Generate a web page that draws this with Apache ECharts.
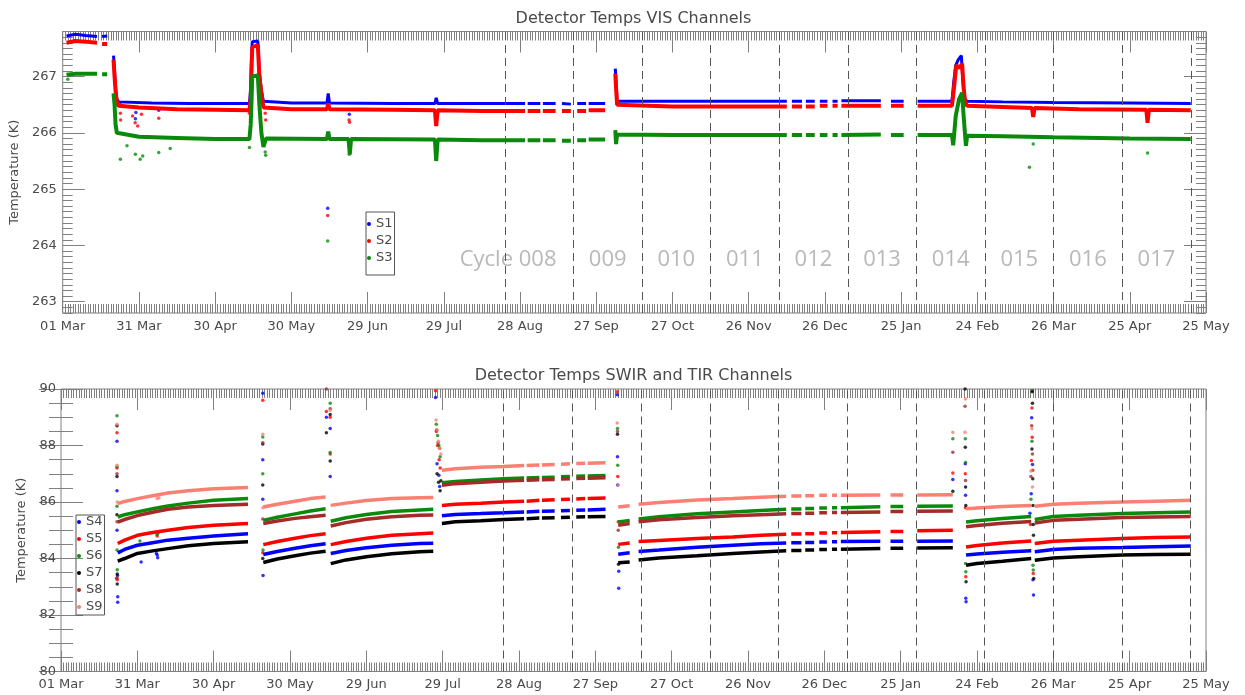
<!DOCTYPE html>
<html>
<head>
<meta charset="utf-8">
<script src="https://cdn.jsdelivr.net/npm/echarts@6/dist/echarts.min.js"></script>
<style>
  html, body { margin: 0; padding: 0; background: #ffffff; }
  #chart { width: 1245px; height: 695px; }
</style>
</head>
<body>
<div id="chart"></div>
<script>
// Time axis: days counted from 01 Mar; one major tick every 30 days.
const dateLabels = ['01 Mar', '31 Mar', '30 Apr', '30 May', '29 Jun', '29 Jul', '28 Aug', '27 Sep',
  '27 Oct', '26 Nov', '26 Dec', '25 Jan', '24 Feb', '26 Mar', '25 Apr', '25 May'];

// Start day of each 27-day orbit cycle (dashed markers) and the cycle names.
const cycleStarts = [174, 201, 228, 255, 282, 309, 336, 363, 390, 417, 444];
const cycleNames = ['Cycle 008', '009', '010', '011', '012', '013', '014', '015', '016', '017'];

// Temperature tick labels (K).
const visTicks = [263, 264, 265, 266, 267];
const swirTicks = [80, 82, 84, 86, 88, 90];

// ---- VIS channels: [day, K]; null marks a data gap ----
const visS1 = [
  [1.5, 267.72], [5, 267.75], [9, 267.73], [13.5, 267.71], null, [15.5, 267.71], [17.5, 267.72], null,
  [20, 267.37], [20.4, 267.1], [20.8, 266.8], [21.3, 266.6], [22, 266.55], [35, 266.53], [50, 266.52], [65, 266.52], [73.5, 266.52],
  [74, 266.8], [74.3, 267.3], [74.6, 267.62], [76.8, 267.63], [77.4, 267.08], [78.2, 266.75], [79, 266.56], [90, 266.53],
  [104, 266.53], [104.5, 266.7], [105, 266.53], [130, 266.52], [146.5, 266.52], [147, 266.62], [147.6, 266.52], [165, 266.52],
  [182, 266.52], null, [183, 266.52], [188, 266.52], null, [189, 266.52], [194, 266.52], null, [196.5, 266.52], [200, 266.51], null,
  [202.5, 266.52], [206, 266.52], null, [207, 266.52], [213.5, 266.52], null,
  [217.5, 267.14], [217.8, 266.9], [218.2, 266.56], [240, 266.56], [260, 266.56], [285, 266.56], null, [287, 266.56], [291, 266.56], null,
  [292.5, 266.56], [296, 266.56], null, [298, 266.56], [301, 266.56], null, [303, 266.56], [305, 266.56], null, [306.5, 266.57], [322, 266.57], null,
  [326, 266.56], [331, 266.56], null, [336.5, 266.56], [350, 266.56],
  [350.7, 266.9], [351.5, 267.2], [352.5, 267.3], [353.7, 267.37], [354.2, 267.0], [355, 266.6], [356, 266.56], [370, 266.55], [390, 266.54], [420, 266.53], [444, 266.52]
];
const visS2 = [
  [1.5, 267.6], [5, 267.63], [9, 267.62], [13.5, 267.6], null, [15.5, 267.58], [17.5, 267.58], null,
  [20, 267.3], [20.4, 267.0], [20.8, 266.75], [21.3, 266.55], [22, 266.48], [30, 266.45], [45, 266.42], [60, 266.41], [73.5, 266.4],
  [74, 266.6], [74.3, 267.1], [74.6, 267.52], [76.8, 267.56], [77.4, 267.0], [78.2, 266.7], [79, 266.45], [90, 266.42],
  [104, 266.42], [104.5, 266.52], [105, 266.42], [130, 266.41], [146.5, 266.4], [147, 266.12], [147.6, 266.4], [165, 266.39],
  [182, 266.39], null, [183, 266.39], [188, 266.39], null, [189, 266.39], [194, 266.39], null, [196.5, 266.39], [200, 266.39], null,
  [202.5, 266.39], [206, 266.39], null, [207, 266.4], [213.5, 266.4], null,
  [217.5, 267.05], [217.8, 266.8], [218.2, 266.5], [240, 266.47], [260, 266.47], [285, 266.47], null, [287, 266.47], [291, 266.47], null,
  [292.5, 266.47], [296, 266.47], null, [298, 266.48], [301, 266.48], null, [303, 266.48], [305, 266.48], null, [306.5, 266.48], [322, 266.48], null,
  [326, 266.48], [331, 266.48], null, [336.5, 266.48], [350, 266.48],
  [350.7, 266.75], [351.7, 267.2], [353, 267.15], [354, 267.23], [354.6, 266.8], [355.2, 266.55], [356, 266.48], [370, 266.46],
  [381.5, 266.44], [382, 266.28], [382.5, 266.44], [400, 266.42], [426.5, 266.41], [427, 266.18], [427.5, 266.41], [444, 266.4]
];
const visS3 = [
  [1.5, 267.03], [5, 267.05], [9, 267.05], [13.5, 267.05], null, [15.5, 267.04], [17.5, 267.04], null,
  [20, 266.7], [20.4, 266.5], [20.8, 266.15], [21.3, 266.0], [22, 265.98], [30, 265.93], [45, 265.91], [60, 265.89], [73.5, 265.89],
  [74, 266.15], [74.3, 266.55], [74.6, 267.0], [76.8, 267.02], [77.4, 266.5], [78.2, 266.0], [79, 265.75], [80, 265.9],
  [104, 265.89], [104.5, 266.02], [105, 265.89], [112.5, 265.89], [113, 265.62], [113.5, 265.89], [146.5, 265.88], [147, 265.5], [147.6, 265.88], [165, 265.87],
  [182, 265.87], null, [183, 265.87], [188, 265.87], null, [189, 265.87], [194, 265.87], null, [196.5, 265.86], [200, 265.86], null,
  [202.5, 265.87], [206, 265.87], null, [207, 265.88], [213.5, 265.88], null,
  [217.5, 266.05], [217.8, 265.8], [218.2, 265.97], [240, 265.96], [260, 265.96], [285, 265.96], null, [287, 265.96], [291, 265.96], null,
  [292.5, 265.96], [296, 265.96], null, [298, 265.96], [301, 265.96], null, [303, 265.96], [305, 265.96], null, [306.5, 265.96], [322, 265.97], null,
  [326, 265.96], [331, 265.96], null, [336.5, 265.96], [350, 265.96],
  [350.5, 265.78], [351.5, 266.3], [352.8, 266.6], [354, 266.71], [354.6, 266.3], [355.5, 265.77], [356, 265.95], [370, 265.94], [390, 265.92], [420, 265.9], [444, 265.89]
];
// Isolated VIS readings away from the main traces.
const visS1Spikes = [[22.7, 266.5], [28.6, 266.25], [28.8, 266.36], [37.8, 266.4], [104.3, 264.66], [112.8, 266.33]];
const visS2Spikes = [[22.7, 266.35], [22.8, 266.23], [27.5, 266.3], [28.5, 266.18], [29.5, 266.12], [31, 266.33], [37.8, 266.26],
  [73.5, 266.35], [73.6, 266.5], [79.7, 266.35], [79.9, 266.23], [104.3, 264.53], [112.7, 266.23], [112.9, 266.19]];
const visS3Spikes = [[2, 266.95], [22.7, 265.53], [25.3, 265.77], [28.6, 265.62], [30.5, 265.53], [31.5, 265.59], [37.8, 265.65],
  [42.3, 265.72], [73.5, 265.74], [79.7, 265.66], [79.9, 265.6], [104.3, 264.08], [112.8, 265.62], [380.5, 265.39], [382, 265.8], [427, 265.64]];

// ---- SWIR and TIR channels: [day, K]; null marks a data gap ----
const swS4 = [
  [22.3, 84.2], [25, 84.32], [30, 84.47], [36, 84.56], [42, 84.65], [50, 84.72], [60, 84.8], [73.5, 84.88], null,
  [79.5, 84.14], [85, 84.25], [92, 84.36], [98, 84.45], [104, 84.52], null,
  [106, 84.18], [112, 84.28], [120, 84.38], [130, 84.47], [141, 84.53], [146.3, 84.54], null,
  [149.7, 85.51], [155, 85.56], [165, 85.59], [174, 85.62], [182, 85.65], null, [183, 85.65], [188, 85.67], null, [189, 85.67], [194, 85.68], null,
  [196.5, 85.69], [200, 85.7], null, [202.5, 85.71], [206, 85.72], null, [207, 85.72], [214, 85.74], null,
  [219, 84.15], [223.5, 84.2], null, [227, 84.25], [235, 84.3], [250, 84.4], [264, 84.47], [275, 84.52], [285, 84.55], null, [287, 84.56], [291, 84.56], null,
  [292.5, 84.57], [296, 84.57], null, [298, 84.58], [301, 84.58], null, [303, 84.59], [305, 84.59], null, [306.5, 84.6], [322, 84.61], null,
  [326, 84.61], [331, 84.61], null, [336.5, 84.61], [350.5, 84.62], null,
  [355.7, 84.12], [360, 84.16], [370, 84.22], [381.3, 84.27], null,
  [382.7, 84.24], [390, 84.32], [400, 84.36], [417, 84.39], [430, 84.42], [444, 84.44]
];
const swS5 = [
  [22.3, 84.53], [25, 84.65], [30, 84.82], [36, 84.92], [42, 85.0], [50, 85.1], [60, 85.18], [73.5, 85.24], null,
  [79.5, 84.49], [85, 84.6], [92, 84.72], [98, 84.81], [104, 84.88], null,
  [106, 84.49], [112, 84.6], [120, 84.72], [130, 84.82], [141, 84.88], [146.3, 84.9], null,
  [149.7, 85.88], [155, 85.92], [165, 85.96], [174, 86.0], [182, 86.03], null, [183, 86.03], [188, 86.06], null, [189, 86.06], [194, 86.08], null,
  [196.5, 86.09], [200, 86.1], null, [202.5, 86.11], [206, 86.12], null, [207, 86.12], [214, 86.14], null,
  [219, 84.5], [223.5, 84.55], null, [227, 84.6], [235, 84.64], [250, 84.71], [264, 84.76], [275, 84.82], [285, 84.86], null, [287, 84.87], [291, 84.87], null,
  [292.5, 84.88], [296, 84.88], null, [298, 84.9], [301, 84.9], null, [303, 84.91], [305, 84.91], null, [306.5, 84.92], [322, 84.95], null,
  [326, 84.96], [331, 84.96], null, [336.5, 84.98], [350.5, 85.0], null,
  [355.7, 84.41], [360, 84.46], [370, 84.55], [381.3, 84.62], null,
  [382.7, 84.53], [390, 84.61], [400, 84.65], [417, 84.71], [430, 84.74], [444, 84.76]
];
const swS6 = [
  [22.3, 85.47], [25, 85.55], [30, 85.65], [36, 85.76], [42, 85.86], [50, 85.96], [60, 86.06], [73.5, 86.12], null,
  [79.5, 85.35], [85, 85.46], [92, 85.58], [98, 85.68], [104, 85.76], null,
  [106, 85.32], [112, 85.44], [120, 85.56], [130, 85.66], [141, 85.72], [146.3, 85.74], null,
  [149.7, 86.68], [155, 86.73], [165, 86.78], [174, 86.82], [182, 86.85], null, [183, 86.85], [188, 86.87], null, [189, 86.87], [194, 86.88], null,
  [196.5, 86.89], [200, 86.9], null, [202.5, 86.91], [206, 86.92], null, [207, 86.92], [214, 86.94], null,
  [219, 85.29], [223.5, 85.35], null, [227, 85.4], [235, 85.48], [250, 85.58], [264, 85.65], [275, 85.7], [285, 85.74], null, [287, 85.75], [291, 85.75], null,
  [292.5, 85.77], [296, 85.77], null, [298, 85.79], [301, 85.79], null, [303, 85.8], [305, 85.8], null, [306.5, 85.8], [322, 85.83], null,
  [326, 85.84], [331, 85.84], null, [336.5, 85.85], [350.5, 85.86], null,
  [355.7, 85.29], [360, 85.34], [370, 85.42], [381.3, 85.49], null,
  [382.7, 85.38], [390, 85.49], [400, 85.53], [417, 85.59], [430, 85.62], [444, 85.65]
];
const swS7 = [
  [22.3, 83.91], [25, 84.0], [30, 84.18], [36, 84.27], [42, 84.35], [50, 84.45], [60, 84.53], [73.5, 84.59], null,
  [79.5, 83.86], [85, 83.98], [92, 84.1], [98, 84.19], [104, 84.26], null,
  [106, 83.82], [112, 83.95], [120, 84.06], [130, 84.17], [141, 84.24], [146.3, 84.26], null,
  [149.7, 85.24], [155, 85.3], [165, 85.34], [174, 85.38], [182, 85.41], null, [183, 85.41], [188, 85.43], null, [189, 85.43], [194, 85.44], null,
  [196.5, 85.45], [200, 85.46], null, [202.5, 85.47], [206, 85.48], null, [207, 85.48], [214, 85.49], null,
  [219, 83.85], [223.5, 83.88], null, [227, 83.95], [235, 84.02], [250, 84.1], [264, 84.18], [275, 84.23], [285, 84.27], null, [287, 84.28], [291, 84.28], null,
  [292.5, 84.3], [296, 84.3], null, [298, 84.32], [301, 84.32], null, [303, 84.33], [305, 84.33], null, [306.5, 84.33], [322, 84.35], null,
  [326, 84.36], [331, 84.36], null, [336.5, 84.37], [350.5, 84.38], null,
  [355.7, 83.76], [360, 83.82], [370, 83.9], [381.3, 84.0], null,
  [382.7, 83.94], [390, 84.02], [400, 84.06], [417, 84.12], [430, 84.14], [444, 84.15]
];
const swS8 = [
  [22.3, 85.29], [25, 85.38], [30, 85.52], [36, 85.64], [42, 85.74], [50, 85.82], [60, 85.88], [73.5, 85.92], null,
  [79.5, 85.24], [85, 85.33], [92, 85.42], [98, 85.48], [104, 85.53], null,
  [106, 85.15], [112, 85.27], [120, 85.39], [130, 85.48], [141, 85.53], [146.3, 85.54], null,
  [149.7, 86.59], [155, 86.65], [165, 86.7], [174, 86.74], [182, 86.77], null, [183, 86.77], [188, 86.79], null, [189, 86.79], [194, 86.8], null,
  [196.5, 86.81], [200, 86.82], null, [202.5, 86.83], [206, 86.84], null, [207, 86.84], [214, 86.86], null,
  [219, 85.18], [223.5, 85.24], null, [227, 85.3], [235, 85.37], [250, 85.45], [264, 85.51], [275, 85.55], [285, 85.58], null, [287, 85.59], [291, 85.59], null,
  [292.5, 85.6], [296, 85.6], null, [298, 85.62], [301, 85.62], null, [303, 85.63], [305, 85.63], null, [306.5, 85.63], [322, 85.65], null,
  [326, 85.66], [331, 85.66], null, [336.5, 85.67], [350.5, 85.68], null,
  [355.7, 85.12], [360, 85.17], [370, 85.25], [381.3, 85.31], null,
  [382.7, 85.26], [390, 85.35], [400, 85.39], [417, 85.45], [430, 85.47], [444, 85.49]
];
const swS9 = [
  [22.3, 85.94], [25, 86.02], [30, 86.12], [36, 86.22], [42, 86.32], [50, 86.4], [60, 86.47], [73.5, 86.51], null,
  [79.5, 85.82], [85, 85.92], [92, 86.03], [98, 86.12], [104, 86.18], null,
  [106, 85.88], [112, 85.96], [120, 86.05], [130, 86.12], [141, 86.15], [146.3, 86.16], null,
  [149.7, 87.12], [155, 87.18], [165, 87.23], [174, 87.26], [182, 87.29], null, [183, 87.29], [188, 87.31], null, [189, 87.31], [194, 87.33], null,
  [196.5, 87.34], [200, 87.35], null, [202.5, 87.36], [206, 87.37], null, [207, 87.37], [214, 87.39], null,
  [219, 85.82], [223.5, 85.87], null, [227, 85.92], [235, 85.98], [250, 86.07], [264, 86.12], [275, 86.17], [285, 86.2], null, [287, 86.21], [291, 86.21], null,
  [292.5, 86.22], [296, 86.22], null, [298, 86.24], [301, 86.24], null, [303, 86.24], [305, 86.24], null, [306.5, 86.24], [322, 86.25], null,
  [326, 86.25], [331, 86.25], null, [336.5, 86.25], [350.5, 86.26], null,
  [355.7, 85.76], [360, 85.79], [370, 85.84], [381.3, 85.88], null,
  [382.7, 85.85], [390, 85.92], [400, 85.96], [417, 86.0], [430, 86.03], [444, 86.06]
];
// Transient readings during decontamination / switch-on events.
const swS4Spikes = [[22, 88.15], [22, 86.4], [22, 85.0], [22.2, 83.4], [22.3, 82.65], [22.3, 82.45], [31.5, 83.88], [37.5, 84.18], [37.8, 84.12], [38, 84.03],
  [79.3, 89.85], [79.3, 87.5], [79.3, 86.1], [79.4, 83.4], [104.3, 89.0], [105.8, 88.6], [105.8, 86.9],
  [147.2, 89.7], [147.8, 87.35], [148.5, 86.95], [148.8, 86.55], [218.6, 89.8], [218.7, 87.6], [218.8, 86.6], [219.2, 83.55], [219.2, 82.95],
  [350.5, 86.8], [355.4, 87.35], [355.5, 86.24], [355.6, 82.59], [355.7, 82.47],
  [381.5, 88.98], [381.8, 87.33], [381.3, 86.29], [380.8, 85.6], [382, 83.25], [382.2, 82.71]];
const swS5Spikes = [[22, 88.45], [22, 87.2], [21.9, 83.3], [22.1, 83.25], [37.8, 84.8], [79.3, 89.6], [79.3, 84.2],
  [104.3, 89.2], [105.8, 89.0], [105.8, 87.7], [147.2, 89.94], [147.5, 88.5], [148, 88.0], [148.6, 87.5], [149, 87.2],
  [218.6, 89.9], [218.8, 86.9], [219, 85.3], [350.5, 87.03], [355.4, 87.0], [355.5, 85.8], [355.6, 83.35],
  [381.6, 89.33], [381.7, 88.29], [381.4, 87.47], [381.9, 87.12], [381, 85.2], [382.1, 83.47]];
const swS6Spikes = [[22, 89.05], [22, 87.25], [22, 85.85], [22, 84.3], [22.1, 83.6], [31, 84.62], [37.7, 84.85], [38.2, 84.9],
  [79.3, 88.3], [79.3, 87.0], [79.4, 84.3], [105.8, 89.5], [105.8, 87.75], [147.5, 88.75], [148, 88.35], [148.5, 88.0], [149, 87.6],
  [218.7, 88.6], [218.8, 87.3], [219.1, 84.4], [350.5, 88.24], [355.4, 88.24], [355.5, 87.4], [355.5, 83.82], [355.6, 83.53],
  [381.8, 89.95], [381.6, 88.15], [381.2, 86.1], [382, 83.76], [382.1, 83.59]];
const swS7Spikes = [[22, 88.7], [22, 86.9], [22, 85.55], [22.1, 83.45], [22.1, 83.1], [79.3, 88.05], [79.3, 86.6], [79.3, 84.0],
  [104.3, 88.45], [105.8, 89.1], [105.8, 87.45], [147.8, 87.0], [148.4, 86.7], [149, 86.4], [149.3, 86.75],
  [218.7, 88.4], [219.1, 83.8], [350.5, 86.38], [355.3, 90.0], [355.4, 87.94], [355.5, 86.53], [355.6, 85.88], [355.7, 83.18],
  [381.7, 89.9], [381.8, 89.5], [381.6, 87.88], [381.9, 86.82], [382, 85.88], [382.1, 85.2], [382.2, 84.82], [382.3, 83.29]];
const swS8Spikes = [[22, 87.0], [22, 85.3], [22, 83.3], [79.3, 88.1], [79.3, 85.4], [104.3, 90.0], [105.8, 89.3],
  [147.6, 88.55], [148.2, 88.1], [148.8, 87.9], [218.7, 88.5], [219, 85.0], [350.5, 87.76], [355.3, 89.39], [355.5, 86.76],
  [381.5, 88.7], [381.2, 86.9], [381.8, 87.7]];
const swS9Spikes = [[22, 88.75], [22, 87.3], [22.1, 86.0], [37.8, 86.12], [38.5, 86.15], [79.3, 88.4], [79.3, 85.8], [105.8, 89.25],
  [147.4, 88.9], [147.9, 88.55], [148.3, 88.15], [148.8, 87.9], [149.3, 87.7], [218.6, 88.8], [219, 86.6],
  [350.5, 88.47], [355.3, 88.47], [355.5, 89.65], [381.6, 88.59], [381.2, 87.1], [381.8, 86.53]];

// ---- styling ----
const AXIS = '#808080';
const TEXT = '#4a4a4a';
const FONT = 'DejaVu Sans';
const COLORS = {
  S1: '#0000ff', S2: '#ff0000', S3: '#0a8a0a',
  S4: '#0000ff', S5: '#ff0000', S6: '#0a8a0a', S7: '#000000', S8: '#a52a2a', S9: '#fa8072'
};

const chart = echarts.init(document.getElementById('chart'), null, { renderer: 'canvas' });

function timeAxis(gridIndex, position, withLabels) {
  return {
    type: 'value', gridIndex, position, min: 0, max: 450, interval: 30,
    axisLine: { show: false },
    axisTick: { show: true, inside: true, length: 21, lineStyle: { color: AXIS, width: 1 } },
    minorTick: { show: true, splitNumber: 30, length: 9, lineStyle: { color: AXIS, width: 1 } },
    splitLine: { show: false }, minorSplitLine: { show: false },
    axisLabel: withLabels ? {
      show: true, margin: 7, color: TEXT, fontFamily: FONT, fontSize: 13,
      showMinLabel: true, showMaxLabel: true,
      formatter: v => dateLabels[Math.round(v / 30)]
    } : { show: false }
  };
}

function gapped(data) {
  return data.map(p => (p === null ? [null, null] : p));
}

function trace(name, data, xi, yi, width) {
  return {
    name, type: 'line', xAxisIndex: xi, yAxisIndex: yi, data: gapped(data),
    showSymbol: false, symbol: 'none', connectNulls: false, silent: true,
    lineStyle: { color: COLORS[name], width }, itemStyle: { color: COLORS[name] }
  };
}

function spikes(name, data, xi, yi) {
  return {
    name, type: 'scatter', xAxisIndex: xi, yAxisIndex: yi, data, silent: true,
    symbolSize: 3.5, itemStyle: { color: COLORS[name] }
  };
}

const cycleMarks = {
  silent: true, symbol: 'none', label: { show: false },
  lineStyle: { type: [8, 5], color: '#555555', width: 1 },
  data: cycleStarts.map(d => ({ xAxis: d }))
};

// Minor temperature ticks for the VIS panel (0.1 K).
const visMinor = [];
for (let k = 0; k <= 50; k++) visMinor.push(+(262.8 + k * 0.1).toFixed(1));

const option = {
  animation: false,
  backgroundColor: '#ffffff',
  title: [
    { text: 'Detector Temps VIS Channels', left: 633.5, top: 11, textAlign: 'center', padding: 0,
      textStyle: { fontFamily: FONT, fontSize: 16, fontWeight: 'normal', color: TEXT } },
    { text: 'Detector Temps SWIR and TIR Channels', left: 633.5, top: 368, textAlign: 'center', padding: 0,
      textStyle: { fontFamily: FONT, fontSize: 16, fontWeight: 'normal', color: TEXT } }
  ],
  legend: [
    { data: ['S1', 'S2', 'S3'], orient: 'vertical', left: 366, top: 212, icon: 'circle',
      itemWidth: 4, itemHeight: 4, itemGap: 3, padding: [5, 2, 10, 1],
      borderColor: '#555555', borderWidth: 1, selectedMode: false,
      textStyle: { fontFamily: FONT, fontSize: 13, color: TEXT, lineHeight: 14 } },
    { data: ['S4', 'S5', 'S6', 'S7', 'S8', 'S9'], orient: 'vertical', left: 76, top: 515, icon: 'circle',
      itemWidth: 4, itemHeight: 4, itemGap: 3, padding: [0, 2, 1, 1],
      borderColor: '#555555', borderWidth: 1, selectedMode: false,
      textStyle: { fontFamily: FONT, fontSize: 13, color: TEXT, lineHeight: 14 } }
  ],
  grid: [
    { left: 61, top: 31.5, width: 1145, height: 281.5, show: true, borderColor: AXIS, borderWidth: 1, backgroundColor: 'transparent' },
    { left: 61, top: 389, width: 1145, height: 282.5, show: true, borderColor: AXIS, borderWidth: 1, backgroundColor: 'transparent' }
  ],
  xAxis: [
    timeAxis(0, 'bottom', true),
    timeAxis(0, 'top', false),
    timeAxis(1, 'bottom', true),
    timeAxis(1, 'top', false)
  ],
  yAxis: [
    // VIS panel: fine ticks left / right, then integer ticks with labels
    { type: 'value', gridIndex: 0, position: 'left', min: 262.8, max: 267.8,
      axisLine: { show: false }, splitLine: { show: false }, axisLabel: { show: false },
      axisTick: { show: true, inside: true, length: 10, customValues: visMinor, lineStyle: { color: AXIS } } },
    { type: 'value', gridIndex: 0, position: 'left', min: 262.8, max: 267.8,
      axisLine: { show: false }, splitLine: { show: false },
      axisTick: { show: true, inside: true, length: 22, customValues: visTicks, lineStyle: { color: AXIS } },
      axisLabel: { show: true, customValues: visTicks, margin: 6, color: TEXT, fontFamily: FONT, fontSize: 13 },
      name: 'Temperature (K)', nameLocation: 'middle', nameGap: 40,
      nameTextStyle: { fontFamily: FONT, fontSize: 13, color: TEXT } },
    { type: 'value', gridIndex: 0, position: 'right', min: 262.8, max: 267.8,
      axisLine: { show: false }, splitLine: { show: false }, axisLabel: { show: false },
      axisTick: { show: true, inside: true, length: 10, customValues: visMinor, lineStyle: { color: AXIS } } },
    { type: 'value', gridIndex: 0, position: 'right', min: 262.8, max: 267.8,
      axisLine: { show: false }, splitLine: { show: false }, axisLabel: { show: false },
      axisTick: { show: true, inside: true, length: 22, customValues: visTicks, lineStyle: { color: AXIS } } },
    // SWIR/TIR panel
    { type: 'value', gridIndex: 1, position: 'left', min: 80, max: 90, interval: 2,
      axisLine: { show: false }, splitLine: { show: false }, minorSplitLine: { show: false },
      axisTick: { show: true, inside: true, length: 22, lineStyle: { color: AXIS } },
      minorTick: { show: true, splitNumber: 4, length: 12, lineStyle: { color: AXIS } },
      axisLabel: { show: true, margin: 5, color: TEXT, fontFamily: FONT, fontSize: 13,
        formatter: v => String(swirTicks[Math.round((v - 80) / 2)]) },
      name: 'Temperature (K)', nameLocation: 'middle', nameGap: 33,
      nameTextStyle: { fontFamily: FONT, fontSize: 13, color: TEXT } },
    { type: 'value', gridIndex: 1, position: 'right', min: 80, max: 90, interval: 2,
      axisLine: { show: false }, splitLine: { show: false }, minorSplitLine: { show: false }, axisLabel: { show: false },
      axisTick: { show: true, inside: true, length: 22, lineStyle: { color: AXIS } },
      minorTick: { show: true, splitNumber: 4, length: 12, lineStyle: { color: AXIS } } }
  ],
  series: [
    // cycle annotations on the VIS panel
    {
      name: 'cycles', type: 'scatter', xAxisIndex: 0, yAxisIndex: 0, silent: true,
      symbolSize: 1, itemStyle: { color: 'rgba(0,0,0,0)' },
      markLine: cycleMarks,
      label: { show: true, position: 'inside', formatter: '{b}', color: '#a6a6a6', fontFamily: 'Open Sans', fontSize: 22 },
      data: cycleNames.map((n, i) => ({
        name: n,
        value: [(cycleStarts[i] + cycleStarts[i + 1]) / 2, 263.75],
        label: i === 0 ? { offset: [-31, 0] } : undefined
      }))
    },
    trace('S1', visS1, 0, 0, 3),
    trace('S2', visS2, 0, 0, 4),
    trace('S3', visS3, 0, 0, 4),
    spikes('S1', visS1Spikes, 0, 0),
    spikes('S2', visS2Spikes, 0, 0),
    spikes('S3', visS3Spikes, 0, 0),
    // dashed cycle markers on the SWIR/TIR panel
    {
      name: 'cyclesSW', type: 'scatter', xAxisIndex: 2, yAxisIndex: 4, silent: true, data: [],
      markLine: cycleMarks
    },
    trace('S4', swS4, 2, 4, 3.5),
    trace('S5', swS5, 2, 4, 3.5),
    trace('S6', swS6, 2, 4, 3.5),
    trace('S7', swS7, 2, 4, 3.5),
    trace('S8', swS8, 2, 4, 3.5),
    trace('S9', swS9, 2, 4, 3.5),
    spikes('S4', swS4Spikes, 2, 4),
    spikes('S5', swS5Spikes, 2, 4),
    spikes('S6', swS6Spikes, 2, 4),
    spikes('S7', swS7Spikes, 2, 4),
    spikes('S8', swS8Spikes, 2, 4),
    spikes('S9', swS9Spikes, 2, 4)
  ]
};

chart.setOption(option);
</script>
</body>
</html>
